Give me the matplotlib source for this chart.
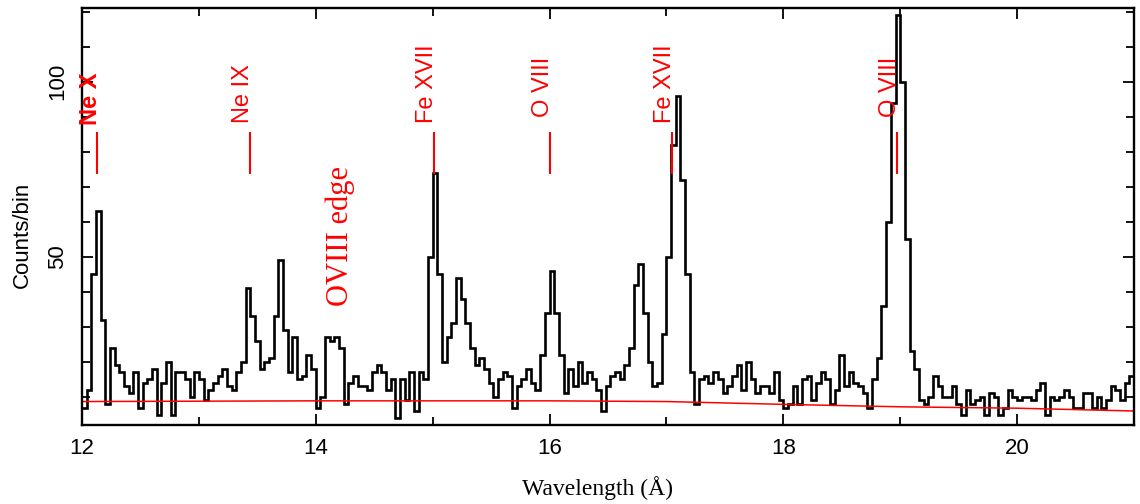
import numpy as np
import matplotlib
matplotlib.use("Agg")
import matplotlib.pyplot as plt
from matplotlib.ticker import MultipleLocator

# spectrum: counts per 0.04 A bin, starting at 12.00 A
bin_start = 12.0
bin_width = 0.04
counts = [
    7, 12, 45, 63, 32, 8, 24, 19, 17, 13,
    11, 17, 7, 14, 15, 18, 5, 14, 20, 5,
    17, 17, 15, 10, 17, 15, 9, 12, 14, 16,
    18, 13, 12, 17, 20, 41, 33, 26, 18, 20,
    21, 33, 49, 29, 17, 27, 15, 16, 22, 18,
    7, 10, 27, 26, 27, 24, 8, 14, 16, 13,
    13, 12, 17, 19, 17, 12, 15, 4, 15, 9,
    17, 6, 17, 15, 50, 74, 45, 20, 27, 31,
    44, 38, 31, 24, 19, 21, 18, 14, 10, 15,
    17, 16, 7, 13, 15, 18, 14, 12, 22, 34,
    46, 34, 22, 11, 18, 13, 20, 14, 17, 15,
    12, 6, 13, 16, 17, 15, 19, 24, 42, 48,
    34, 20, 13, 14, 28, 50, 82, 96, 72, 45,
    17, 8, 15, 16, 14, 17, 15, 11, 13, 16,
    19, 12, 20, 15, 11, 13, 13, 11, 17, 9,
    7, 8, 13, 8, 15, 16, 9, 14, 17, 15,
    8, 12, 22, 13, 17, 14, 13, 11, 7, 15,
    21, 36, 60, 94, 119, 100, 55, 23, 18, 9,
    8, 10, 16, 13, 10, 10, 13, 8, 5, 12,
    8, 9, 10, 5, 11, 10, 5, 7, 12, 10,
    9, 10, 10, 9, 12, 14, 5, 10, 9, 10,
    12, 10, 7, 7, 11, 11, 7, 10, 7, 9,
    13, 12, 9, 14, 16,
]

# continuum model (red curve)
cont_wave = [12.0, 14.0, 16.0, 17.0, 18.0, 19.0, 20.0, 21.0]
cont_counts = [8.7, 8.9, 8.9, 8.7, 7.9, 7.2, 6.8, 6.0]

# line identifications
line_names = ["Ne X", "Ne IX", "Fe XVII", "O VIII", "Fe XVII", "O VIII"]
line_waves = [12.13, 13.44, 15.01, 16.00, 17.05, 18.97]
line_label_y = [87.7, 88.3, 88.3, 90.0, 88.3, 90.0]


def main():
    plt.rcParams["font.family"] = ["Liberation Sans", "DejaVu Sans"]

    fig = plt.figure(figsize=(11.4, 5.04), dpi=100)
    ax = fig.add_axes([0.0719, 0.1567, 0.9228, 0.8274])

    edges = bin_start + bin_width * np.arange(len(counts) + 1)
    ax.stairs(counts, edges, baseline=None, color="black", lw=1.9)
    ax.plot(cont_wave, cont_counts, color="red", lw=1.1)

    ax.vlines(line_waves, 73.5, 85.5, color="red", lw=1.5)
    for name, w, y in zip(line_names, line_waves, line_label_y):
        ax.text(w - 0.06, y, name, color="red", rotation=90, fontsize=17,
                ha="center", va="bottom",
                fontweight="bold" if name == "Ne X" else "normal")

    ax.text(14.21, 56, "OVIII edge", color="red", rotation=90, fontsize=22,
            family="Liberation Serif", ha="center", va="center")

    ax.set_xlim(12, 21)
    ax.set_ylim(2, 121)
    ax.xaxis.set_major_locator(MultipleLocator(2))
    ax.xaxis.set_minor_locator(MultipleLocator(1))
    ax.yaxis.set_major_locator(MultipleLocator(50))
    ax.yaxis.set_minor_locator(MultipleLocator(10))
    ax.tick_params(which="both", direction="in", top=True, right=True,
                   width=1.3, labelsize=16)
    ax.tick_params(which="major", length=8)
    ax.tick_params(which="minor", length=6)
    ax.tick_params(axis="x", pad=9)
    ax.tick_params(axis="y", pad=10)
    plt.setp(ax.get_yticklabels(), rotation=90, va="center")
    for sp in ax.spines.values():
        sp.set_linewidth(1.7)

    ax.set_xlabel("Wavelength (Å)", family="Liberation Serif", fontsize=17)
    ax.xaxis.set_label_coords(0.49, -0.122)
    ax.set_ylabel("Counts/bin", fontsize=16)
    ax.yaxis.set_label_coords(-0.047, 0.456)

    fig.savefig("out.png", dpi=100)


if __name__ == "__main__":

    main()
